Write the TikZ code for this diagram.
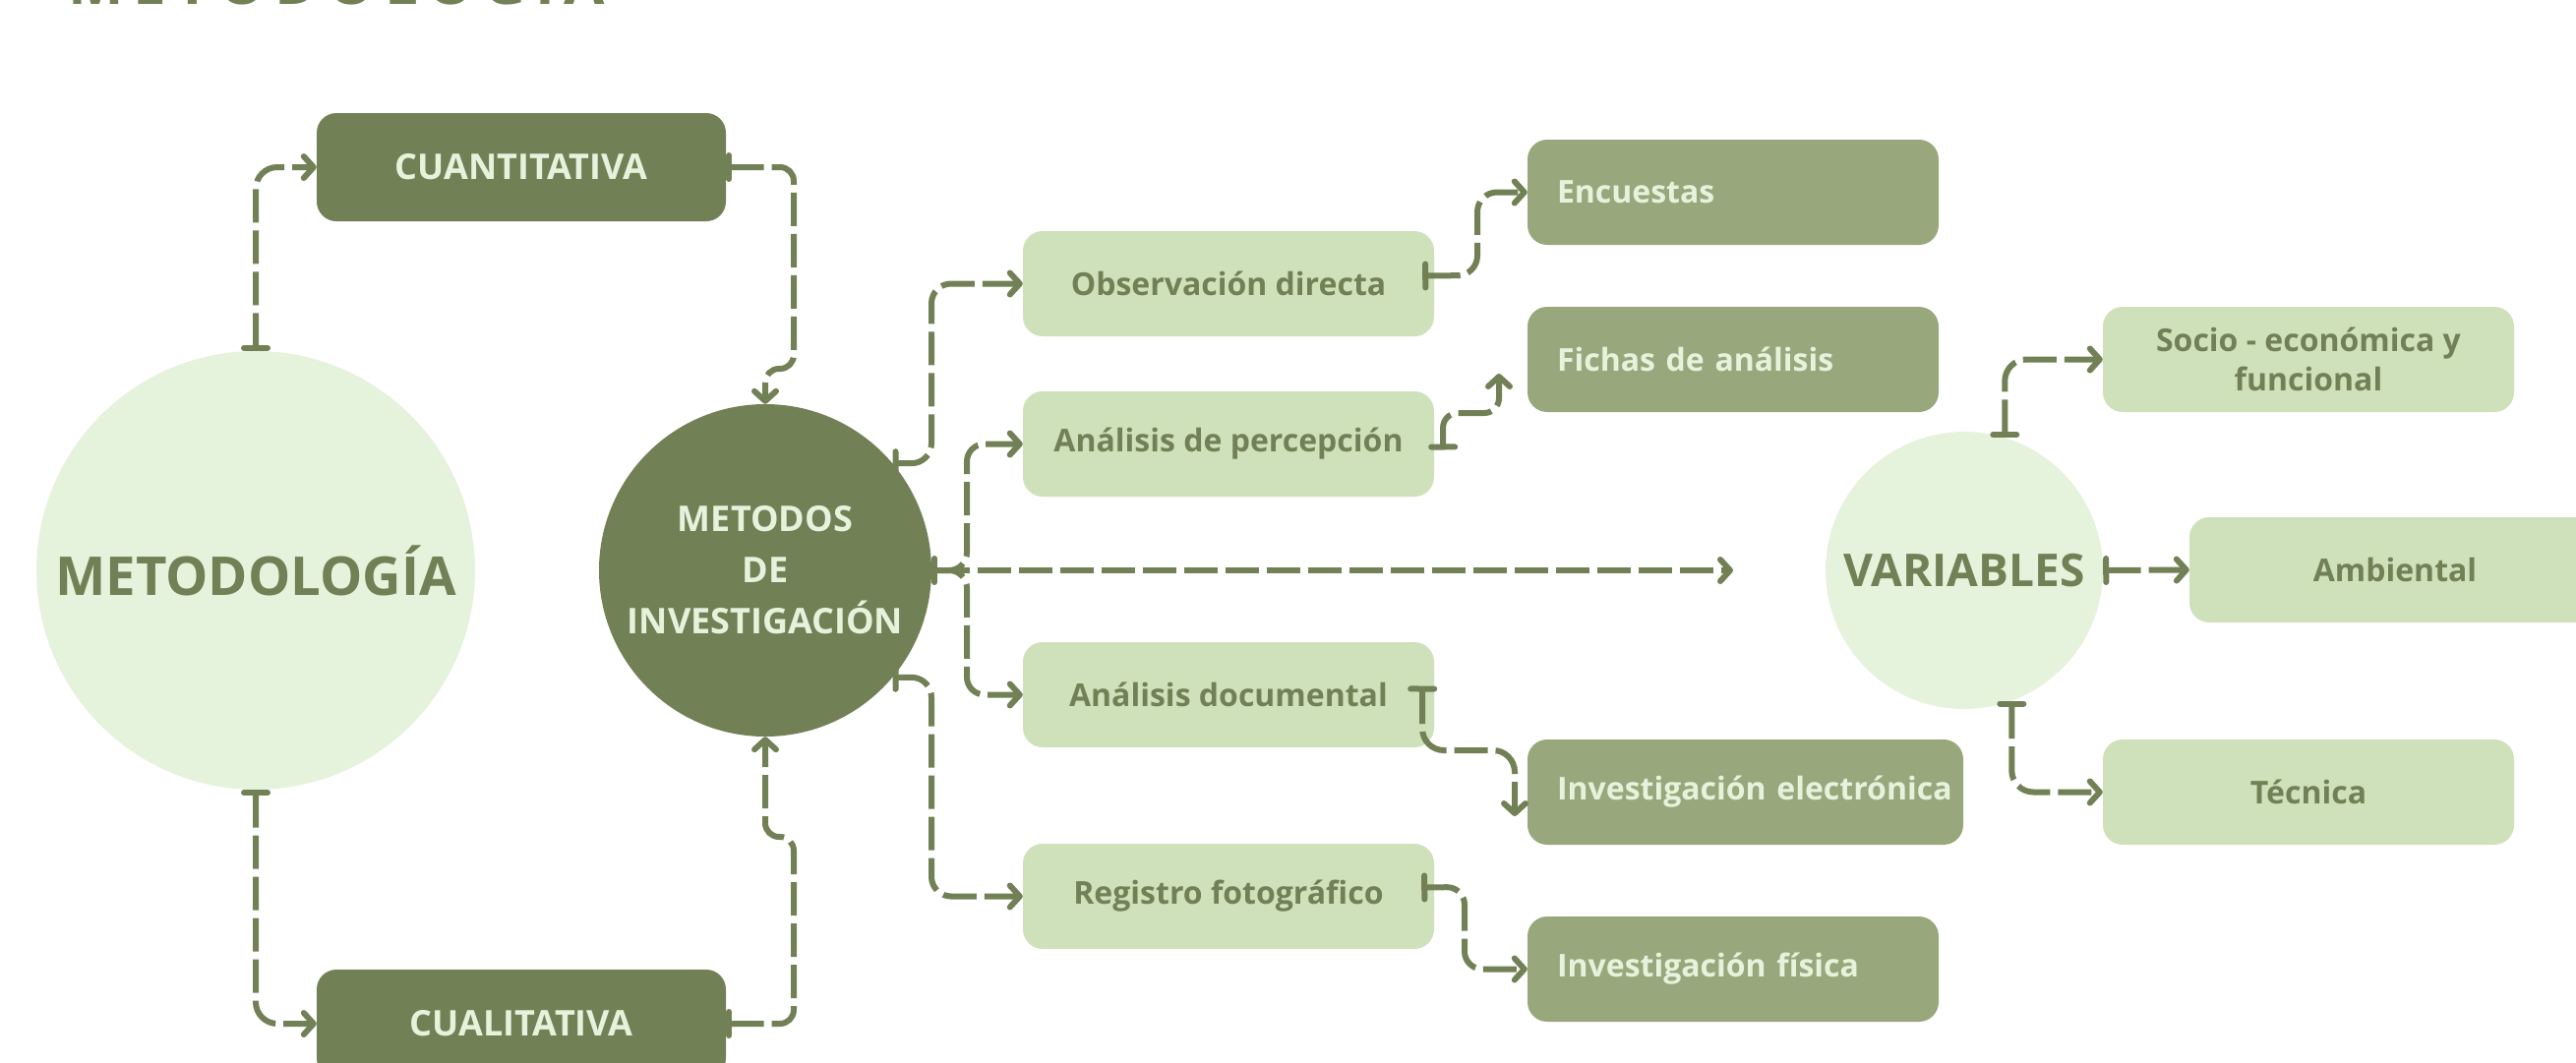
\documentclass[tikz,border=0pt]{standalone}
\usepackage{fontspec}
\setmainfont{Open Sans}
\usetikzlibrary{arrows.meta}
\definecolor{dk}{HTML}{728056}
\definecolor{md}{HTML}{99A77C}
\definecolor{lt}{HTML}{CFE1BA}
\definecolor{vl}{HTML}{E6F3DC}
\begin{document}
\begin{tikzpicture}[x=1pt,y=1pt,
  box/.style={rectangle, rounded corners=20pt, minimum height=107pt, inner sep=0pt,
    font=\bfseries\fontsize{32}{40}\selectfont},
  ltbox/.style={box, fill=lt, text=dk, minimum width=418pt, align=center},
  mdbox/.style={box, fill=md, text=vl, minimum width=418pt, text width=358pt, inner xsep=30pt, align=left},
  dkbox/.style={box, fill=dk, text=vl, minimum width=416pt, minimum height=110pt,
    font=\bfseries\fontsize{36}{40}\selectfont},
  circ/.style={circle, inner sep=0pt, align=center},
  conn/.style={draw=dk, line width=6pt, dash pattern=on 34pt off 8pt, rounded corners=22pt,
    {Bar[width=24pt,round]}-{Straight Barb[length=10pt,width=22pt,round]}},
  plain/.style={draw=dk, line width=6pt, dash pattern=on 34pt off 8pt, rounded corners=22pt,
    -{Straight Barb[length=10pt,width=22pt,round]}}
]
\useasboundingbox (0,0) rectangle (2619,-1080);
\begin{scope}
\clip (0,0) rectangle (2619,-1080);
% title (mostly above the page)
\node[anchor=base west, inner sep=0pt, text=dk, font=\bfseries\fontsize{60}{60}\selectfont] (title) at (69,-4)
  {M\kern9.5pt E\kern9.5pt T\kern9.5pt O\kern9.5pt D\kern9.5pt O\kern9.5pt L\kern9.5pt O\kern9.5pt G\kern9.5pt Í\kern9.5pt A};
% circles
\node[circ, fill=vl, minimum size=446pt, text=dk, font=\bfseries\fontsize{54.5}{60}\selectfont] (metod) at (260,-580) {METODOLOGÍA};
\node[circ, fill=dk, minimum size=338pt, text=vl, font=\bfseries\fontsize{36}{52}\selectfont] (metodos) at (778,-580) {METODOS\\DE\\INVESTIGACIÓN};
\node[circ, fill=vl, minimum size=282pt, text=dk, font=\bfseries\fontsize{46}{50}\selectfont] (var) at (1997,-580) {VARIABLES};
% dark boxes
\node[dkbox] (cuan) at (530,-170) {CUANTITATIVA};
\node[dkbox] (cual) at (530,-1041) {CUALITATIVA};
% light boxes
\node[ltbox] (obs) at (1249,-288.5) {Observación directa};
\node[ltbox] (perc) at (1249,-451.5) {Análisis de percepción};
\node[ltbox] (doc) at (1249,-706.5) {Análisis documental};
\node[ltbox] (reg) at (1249,-911.5) {Registro fotográfico};
\node[ltbox] (soc) at (2347,-365.5) {Socio - económica y\\funcional};
\node[ltbox] (amb) at (2435,-579.5) {Ambiental};
\node[ltbox] (tec) at (2347,-805.5) {Técnica};
% medium boxes
\node[mdbox] (enc) at (1762,-195.5) {Encuestas};
\node[mdbox] (fich) at (1762,-365.5) {Fichas de análisis};
\node[mdbox, minimum width=443pt, text width=383pt] (elec) at (1774.5,-805.5) {\mbox{Investigación electrónica}};
\node[mdbox] (fis) at (1762,-985.5) {Investigación física};
% free ends
\coordinate (varin) at (1762,-580);
\coordinate (fichin) at (1524,-380);
\coordinate (elecin) at (1540,-830);
% connectors
\draw[conn] (metod.north) |- (cuan.west);
\draw[conn] (metod.south) |- (cual.west);
\draw[conn, rounded corners=14pt] (cuan.east) -- (807,-170) -- (807,-375) -- (778,-375) -- (metodos.north);
\draw[conn, rounded corners=14pt] (cual.east) -- (807,-1041) -- (807,-851) -- (778,-851) -- (metodos.south);
\draw[conn, rounded corners=20pt] (metodos.40) -- (947,-471) |- (obs.west);
\draw[conn, rounded corners=20pt] (metodos.-40) -- (947,-689) |- (reg.west);
\draw[plain, rounded corners=18pt] (metodos.east) -- (983,-580) |- (perc.west);
\draw[plain, rounded corners=18pt] (metodos.east) -- (983,-580) |- (doc.west);
\draw[conn] (metodos.east) -- (varin);
\draw[conn, rounded corners=20pt] ([xshift=-12pt,yshift=8pt]obs.east) -- (1502,-280) |- (enc.west);
\draw[conn, rounded corners=15pt] ([xshift=9pt,yshift=-6pt]perc.east) -- (1467,-420) -- (1524,-420) -- (fichin);
\draw[conn, rounded corners=22pt] ([xshift=-12pt,yshift=9pt]doc.east) -- (1446,-763) -- (1540,-763) -- (elecin);
\draw[conn, rounded corners=18pt] ([xshift=-13pt,yshift=9pt]reg.east) -- (1489,-902) -- (1489,-985.5) -- (fis.west);
\draw[conn] (var.73) |- (soc.west);
\draw[conn] (var.east) -- (amb.west);
\draw[conn] (var.-70) |- (tec.west);
\end{scope}
\end{tikzpicture}
\end{document}
